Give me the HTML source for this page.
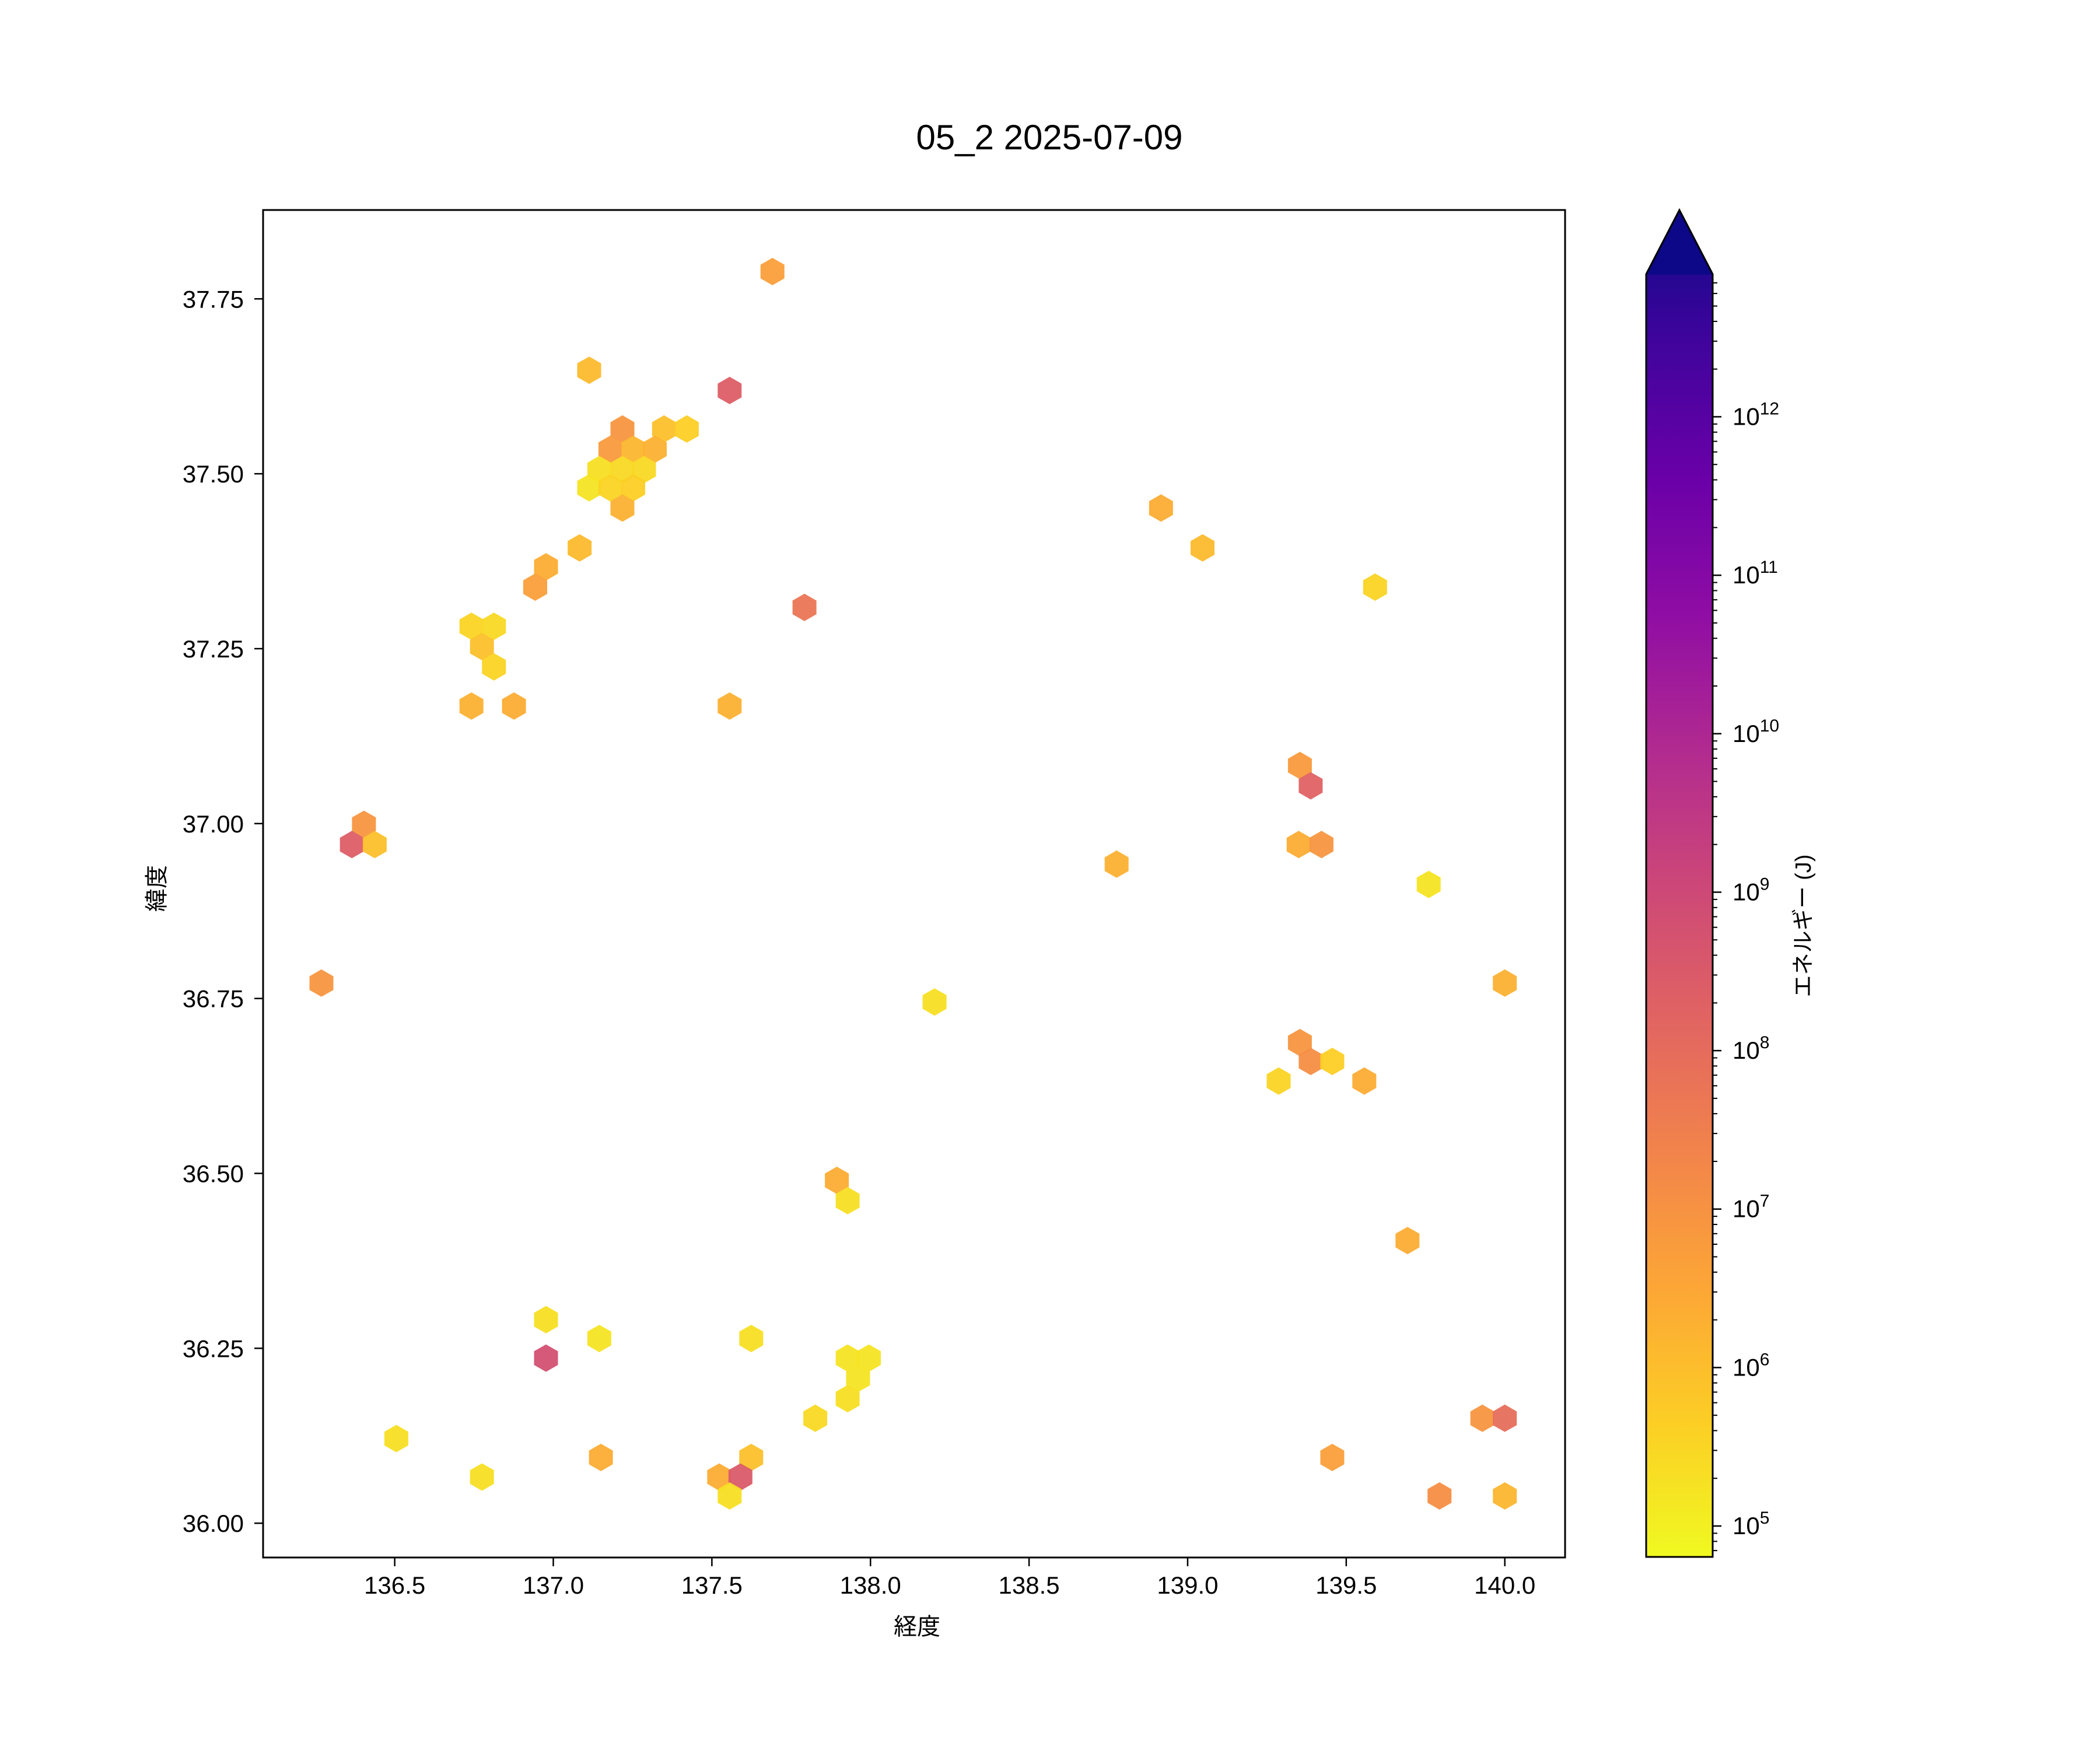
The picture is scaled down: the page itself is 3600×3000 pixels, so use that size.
<!DOCTYPE html>
<html><head><meta charset="utf-8"><style>html,body{margin:0;padding:0;background:#fff}svg{display:block}</style></head>
<body>
<svg id="chart" xmlns="http://www.w3.org/2000/svg" width="3600" height="3000" viewBox="0 0 3600 3000" font-family="Liberation Sans, Noto Sans CJK JP, sans-serif">
<rect width="3600" height="3000" fill="#fff"/>
<text x="1799" y="256" font-size="60" text-anchor="middle">05_2 2025-07-09</text>
<g id="hexes"></g>
<rect x="451" y="360" width="2232" height="2310" fill="none" stroke="#000" stroke-width="3"/>
<g id="xticks"></g>
<g id="yticks"></g>
<text x="1572" y="2802" font-size="40" text-anchor="middle" font-family="Noto Sans CJK JP, sans-serif">経度</text>
<text x="0" y="0" font-size="40" text-anchor="middle" font-family="Noto Sans CJK JP, sans-serif" transform="translate(282,1523) rotate(-90)">緯度</text>
<defs><linearGradient id="cbg" x1="0" y1="1" x2="0" y2="0"></linearGradient></defs>
<g id="colorbar"></g>
<text x="0" y="0" font-size="38" text-anchor="middle" font-family="Liberation Sans, Noto Sans CJK JP, sans-serif" transform="translate(3104,1587) rotate(-90)">エネルギー (J)</text>
</svg>
<script>
const lons = [137.691,137.113,137.556,137.218,137.349,137.421,137.180,137.252,137.320,137.145,137.218,137.286,137.113,137.180,137.252,137.218,137.083,136.977,136.943,137.792,136.742,136.813,136.775,136.813,136.742,136.876,137.556,136.403,136.365,136.437,136.269,138.916,139.047,139.591,139.354,139.388,139.350,139.422,138.776,139.760,140.0,138.202,139.354,139.388,139.456,139.287,139.557,137.894,137.928,139.693,136.977,137.145,137.624,136.977,137.928,137.995,137.961,137.928,137.826,136.505,139.929,140.0,137.150,137.624,139.456,136.775,137.523,137.590,137.556,139.794,140.0];
const lats = [37.789,37.648,37.619,37.564,37.564,37.564,37.535,37.535,37.535,37.506,37.506,37.506,37.480,37.480,37.480,37.451,37.394,37.367,37.338,37.309,37.282,37.282,37.253,37.224,37.168,37.168,37.168,36.999,36.970,36.970,36.772,37.451,37.394,37.338,37.083,37.054,36.970,36.970,36.942,36.913,36.772,36.745,36.687,36.660,36.660,36.632,36.632,36.490,36.461,36.404,36.291,36.264,36.264,36.236,36.236,36.236,36.207,36.178,36.150,36.121,36.150,36.150,36.094,36.094,36.094,36.066,36.066,36.066,36.039,36.039,36.039];
const logEnergy = [6.6,6.0,8.2,6.8,5.9,5.6,6.7,6.1,6.2,5.3,5.4,5.4,5.2,5.5,5.6,6.2,6.0,6.3,6.6,7.6,5.5,5.4,5.9,5.5,6.2,6.3,6.2,6.8,8.2,5.9,6.8,6.3,6.0,5.5,6.7,8.1,6.3,6.8,6.2,5.2,6.2,5.3,6.8,7.0,5.6,5.5,6.3,6.3,5.3,6.3,5.3,5.2,5.3,8.6,5.2,5.2,5.2,5.3,5.4,5.3,6.8,7.8,6.3,5.9,6.6,5.3,6.3,8.3,5.3,7.0,6.1];
const xTickLabels = ["136.5","137.0","137.5","138.0","138.5","139.0","139.5","140.0"];
const yTickLabels = ["36.00","36.25","36.50","36.75","37.00","37.25","37.50","37.75"];
const cbarExponents = [5,6,7,8,9,10,11,12];

const NS="http://www.w3.org/2000/svg";
const X0=451,X1=2683,Y0=360,Y1=2670;
const lonMin=136.085,lonMax=140.19,latMin=35.951,latMax=37.877;
const xs=v=>X0+(v-lonMin)/(lonMax-lonMin)*(X1-X0);
const ys=v=>Y1-(v-latMin)/(latMax-latMin)*(Y1-Y0);
const CB0=2669,CB1=470,CBT=360,CBL=2822,CBR=2936;
const cmin=4.805,cmax=12.9;
const cy=v=>CB0-(v-cmin)/(cmax-cmin)*(CB0-CB1);
const plasma=["#0d0887","#41049d","#6a00a8","#8f0da4","#b12a90","#cc4778","#e16462","#f2844b","#fca636","#fcce25","#f0f921"];
function hex2rgb(h){return [1,3,5].map(i=>parseInt(h.substr(i,2),16));}
function cmap(le){let t=1-(le-cmin)/(cmax-cmin);t=Math.max(0,Math.min(1,t));const p=t*10,i=Math.min(9,Math.floor(p)),f=p-i;const a=hex2rgb(plasma[i]),b=hex2rgb(plasma[i+1]);return "rgb("+a.map((c,k)=>Math.round(c+(b[k]-c)*f)).join(",")+")";}
function mk(tag,attrs,parent){const e=document.createElementNS(NS,tag);for(const k in attrs)e.setAttribute(k,attrs[k]);parent.appendChild(e);return e;}

const hg=document.getElementById("hexes");
const hw=20.5,hh=23.5;
lons.forEach((lo,i)=>{const cx=xs(lo),cyy=ys(lats[i]);
 const pts=[[0,-hh],[hw,-hh/2],[hw,hh/2],[0,hh],[-hw,hh/2],[-hw,-hh/2]].map(p=>(cx+p[0]).toFixed(1)+","+(cyy+p[1]).toFixed(1)).join(" ");
 const e=mk("polygon",{points:pts,fill:cmap(logEnergy[i]),"fill-opacity":"0.95"},hg);
 
 
});

const xg=document.getElementById("xticks");
xTickLabels.forEach(l=>{const x=xs(parseFloat(l));
 const t=mk("line",{x1:x,y1:Y1,x2:x,y2:Y1+15,stroke:"#000","stroke-width":"2.5"},xg);
 
 
 const tx=mk("text",{x:x,y:2732,"font-size":"42","text-anchor":"middle"},xg);tx.textContent=l;
 
 
});
const yg=document.getElementById("yticks");
yTickLabels.forEach(l=>{const y=ys(parseFloat(l));
 const t=mk("line",{x1:X0-15,y1:y,x2:X0,y2:y,stroke:"#000","stroke-width":"2.5"},yg);
 
 
 const tx=mk("text",{x:418,y:y+15,"font-size":"42","text-anchor":"end"},yg);tx.textContent=l;
 
 
});

const grad=document.getElementById("cbg");
for(let k=0;k<=10;k++){mk("stop",{offset:(k/10),"stop-color":plasma[10-k]},grad);}
const cg=document.getElementById("colorbar");
const mid=(CBL+CBR)/2;
const bar=mk("polygon",{points:`${CBL},${CB0} ${CBL},${CB1} ${mid},${CBT} ${CBR},${CB1} ${CBR},${CB0}`,fill:"url(#cbg)",stroke:"none"},cg);


const tip=mk("polygon",{points:`${CBL},${CB1+1} ${mid},${CBT} ${CBR},${CB1+1}`,fill:"#0d0887"},cg);


const ol=mk("polygon",{points:`${CBL},${CB0} ${CBL},${CB1} ${mid},${CBT} ${CBR},${CB1} ${CBR},${CB0}`,fill:"none",stroke:"#000","stroke-width":"3"},cg);


for(let d=4;d<=12;d++){for(let m=2;m<=9;m++){const v=d+Math.log10(m);if(v<cmin||v>cmax)continue;const y=cy(v);
 const t=mk("line",{x1:CBR,y1:y,x2:CBR+8,y2:y,stroke:"#000","stroke-width":"2"},cg);
 
 }}
cbarExponents.forEach(ex=>{const y=cy(ex);
 const t=mk("line",{x1:CBR,y1:y,x2:CBR+15,y2:y,stroke:"#000","stroke-width":"2.5"},cg);
 
 
 const tx=mk("text",{x:2970,y:y+14,"font-size":"42"},cg);tx.textContent="10";
 const sp=mk("tspan",{dy:"-18","font-size":"30"},tx);sp.textContent=String(ex);
 
 
});
</script>
</body></html>
